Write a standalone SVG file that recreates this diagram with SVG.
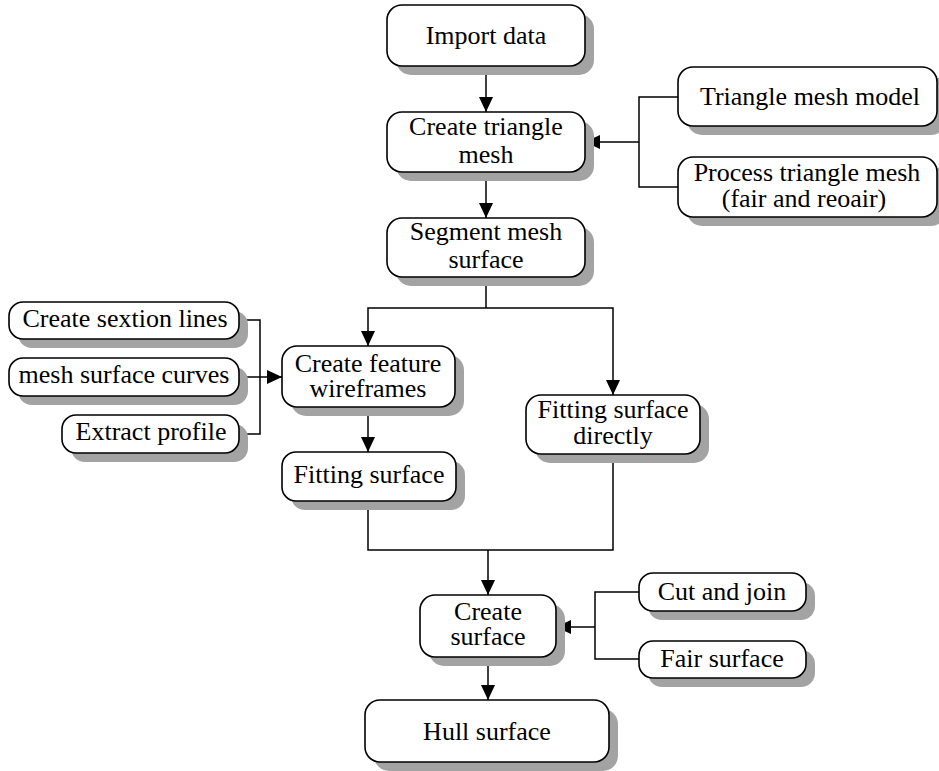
<svg xmlns="http://www.w3.org/2000/svg" width="939" height="771" viewBox="0 0 939 771">
<defs>
<style>
.sh{fill:#a3a3a3;stroke:none}
.bx{fill:#fff;stroke:#000;stroke-width:1.6}
.c{fill:none;stroke:#000;stroke-width:1.5}
text{font-family:"Liberation Serif","Times New Roman",serif;font-size:26px;text-anchor:middle;fill:#000}
</style>
<marker id="ah" viewBox="0 0 15 14" refX="15" refY="7" markerWidth="15" markerHeight="14" markerUnits="userSpaceOnUse" orient="auto">
<path d="M0,0 L15,7 L0,14 Z" fill="#000"/>
</marker>
</defs>
<rect width="939" height="771" fill="#fff"/>

<g id="connectors">
<path class="c" d="M486,66 V112" marker-end="url(#ah)"/>
<path class="c" d="M486,172 V218" marker-end="url(#ah)"/>
<path class="c" d="M678,97 H639 V187 H678"/>
<path class="c" d="M639,142 H585" marker-end="url(#ah)"/>
<path class="c" d="M486,277 V308"/>
<path class="c" d="M486,308 H368 V346" marker-end="url(#ah)"/>
<path class="c" d="M486,308 H613 V395" marker-end="url(#ah)"/>
<path class="c" d="M239,320 H260 V434 H239"/>
<path class="c" d="M239,377 H282" marker-end="url(#ah)"/>
<path class="c" d="M368,407 V452" marker-end="url(#ah)"/>
<path class="c" d="M368,501 V550 H613 V454"/>
<path class="c" d="M488,550 V595" marker-end="url(#ah)"/>
<path class="c" d="M639,592 H595 V659 H639"/>
<path class="c" d="M595,627 H556" marker-end="url(#ah)"/>
<path class="c" d="M488,657 V700" marker-end="url(#ah)"/>
</g>

<g id="import-data">
<rect class="sh" x="396" y="14" width="198" height="61" rx="15"/>
<rect class="bx" x="387" y="5" width="198" height="61" rx="15"/>
<text x="486" y="44">Import data</text>
</g>

<g id="create-triangle-mesh">
<rect class="sh" x="396" y="121" width="198" height="60" rx="15"/>
<rect class="bx" x="387" y="112" width="198" height="60" rx="15"/>
<text x="486" y="135">Create triangle<tspan x="486" dy="28">mesh</tspan></text>
</g>

<g id="segment-mesh-surface">
<rect class="sh" x="396" y="227" width="198" height="59" rx="15"/>
<rect class="bx" x="387" y="218" width="198" height="59" rx="15"/>
<text x="486" y="240">Segment mesh<tspan x="486" dy="28">surface</tspan></text>
</g>

<g id="triangle-mesh-model">
<rect class="sh" x="687" y="76" width="259" height="59" rx="15"/>
<rect class="bx" x="678" y="67" width="259" height="59" rx="15"/>
<text x="810" y="105">Triangle mesh model</text>
</g>

<g id="process-triangle-mesh">
<rect class="sh" x="687" y="166" width="259" height="60" rx="15"/>
<rect class="bx" x="678" y="157" width="259" height="60" rx="15"/>
<text x="807" y="181">Process triangle mesh<tspan x="804" dy="26">(fair and reoair)</tspan></text>
</g>

<g id="create-sextion-lines">
<rect class="sh" x="18" y="311" width="230" height="37" rx="14"/>
<rect class="bx" x="9" y="302" width="230" height="37" rx="14"/>
<text x="125" y="327">Create sextion lines</text>
</g>

<g id="mesh-surface-curves">
<rect class="sh" x="18" y="367" width="230" height="38" rx="14"/>
<rect class="bx" x="9" y="358" width="230" height="38" rx="14"/>
<text x="124" y="383">mesh surface curves</text>
</g>

<g id="extract-profile">
<rect class="sh" x="71" y="424" width="177" height="38" rx="14"/>
<rect class="bx" x="62" y="415" width="177" height="38" rx="14"/>
<text x="151" y="440">Extract profile</text>
</g>

<g id="create-feature-wireframes">
<rect class="sh" x="291" y="355" width="173" height="61" rx="15"/>
<rect class="bx" x="282" y="346" width="173" height="61" rx="15"/>
<text x="368" y="372">Create feature<tspan x="368" dy="25">wireframes</tspan></text>
</g>

<g id="fitting-surface">
<rect class="sh" x="291" y="461" width="174" height="49" rx="14"/>
<rect class="bx" x="282" y="452" width="174" height="49" rx="14"/>
<text x="369" y="483">Fitting surface</text>
</g>

<g id="fitting-surface-directly">
<rect class="sh" x="535" y="404" width="174" height="59" rx="15"/>
<rect class="bx" x="526" y="395" width="174" height="59" rx="15"/>
<text x="613" y="418">Fitting surface<tspan x="613" dy="26">directly</tspan></text>
</g>

<g id="create-surface">
<rect class="sh" x="429" y="604" width="136" height="62" rx="15"/>
<rect class="bx" x="420" y="595" width="136" height="62" rx="15"/>
<text x="488" y="620">Create<tspan x="488" dy="25">surface</tspan></text>
</g>

<g id="cut-and-join">
<rect class="sh" x="648" y="582" width="167" height="38" rx="14"/>
<rect class="bx" x="639" y="573" width="167" height="38" rx="14"/>
<text x="722" y="600">Cut and join</text>
</g>

<g id="fair-surface">
<rect class="sh" x="648" y="650" width="167" height="37" rx="14"/>
<rect class="bx" x="639" y="641" width="167" height="37" rx="14"/>
<text x="722" y="667">Fair surface</text>
</g>

<g id="hull-surface">
<rect class="sh" x="374" y="709" width="244" height="62" rx="15"/>
<rect class="bx" x="365" y="700" width="244" height="62" rx="15"/>
<text x="487" y="740">Hull surface</text>
</g>
</svg>
